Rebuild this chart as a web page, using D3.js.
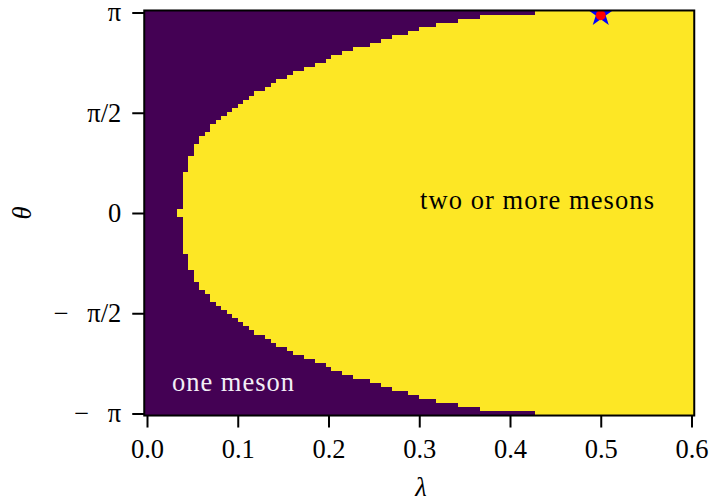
<!DOCTYPE html>
<html>
<head>
<meta charset="utf-8">
<script src="https://cdn.jsdelivr.net/npm/d3@7"></script>
<style>
  html, body { margin: 0; padding: 0; background: #ffffff; }
  svg { display: block; }
  text { font-family: "Liberation Serif", "DejaVu Serif", serif; }
</style>
</head>
<body>
<svg id="chart" width="710" height="497"></svg>
<script>
// ---- data ----
// sampling grid of the phase diagram
const lambdaMin = 0.0, lambdaMax = 0.6, nLambda = 100;
const thetaMin = -Math.PI, thetaMax = Math.PI, nTheta = 100;
// for each theta row (top row theta = +pi down to bottom row theta = -pi):
// index of the first lambda column that is in the "two or more mesons" phase
const onsetColumn = [
  71, 61, 57, 53, 50, 48, 45, 43, 41, 38,
  36, 34, 33, 31, 29, 27, 26, 24, 23, 22,
  20, 19, 18, 17, 16, 15, 14, 13, 12, 12,
  11, 10, 10,  9,  9,  9,  8,  8,  8,  8,
   7,  7,  7,  7,  7,  7,  7,  7,  7,  6,
   6,  7,  7,  7,  7,  7,  7,  7,  7,  7,
   8,  8,  8,  8,  9,  9,  9, 10, 10, 11,
  12, 12, 13, 14, 15, 16, 17, 18, 19, 20,
  22, 23, 24, 26, 27, 29, 31, 33, 34, 36,
  38, 41, 43, 45, 48, 50, 53, 57, 61, 71
];
const phaseNames = ["one meson", "two or more mesons"];
const phaseColors = ["#440154", "#fde725"];
const xTickValues = [0.0, 0.1, 0.2, 0.3, 0.4, 0.5, 0.6];
const yTickValues = [-Math.PI, -Math.PI / 2, 0, Math.PI / 2, Math.PI];
const yTickLabels = ["\u2212\u2002\u2009\u03c0", "\u2212\u2002\u2009\u03c0/2", "0", "\u03c0/2", "\u03c0"];
const markerPoint = [{ lambda: 0.5, theta: Math.PI }];

// ---- layout ----
const FS = 26.5;
const svg = d3.select("#chart");
const x = d3.scaleLinear().domain([lambdaMin, lambdaMax]).range([147, 691.5]);
const y = d3.scaleLinear().domain([thetaMin, thetaMax]).range([413.5, 12.5]);
const dLam = (lambdaMax - lambdaMin) / (nLambda - 1);
const dTh = (thetaMax - thetaMin) / (nTheta - 1);
const pLeft = x(lambdaMin - dLam / 2), pRight = x(lambdaMax + dLam / 2);
const pTop = y(thetaMax + dTh / 2), pBottom = y(thetaMin - dTh / 2);

// clip
svg.append("defs").append("clipPath").attr("id", "plotclip")
  .append("rect").attr("x", pLeft).attr("y", pTop)
  .attr("width", pRight - pLeft).attr("height", pBottom - pTop);

const plot = svg.append("g").attr("clip-path", "url(#plotclip)");

// build row runs from the data
const rows = onsetColumn.map((j, i) => {
  const theta = thetaMax - i * dTh;
  const lamOnset = lambdaMin + j * dLam;
  return [
    { phase: 0, theta, l0: lambdaMin - dLam / 2, l1: lamOnset - dLam / 2 },
    { phase: 1, theta, l0: lamOnset - dLam / 2, l1: lambdaMax + dLam / 2 }
  ];
}).flat();

plot.selectAll("rect.cell").data(rows).join("rect")
  .attr("class", "cell")
  .attr("x", d => x(d.l0))
  .attr("width", d => x(d.l1) - x(d.l0))
  .attr("y", d => y(d.theta + dTh / 2))
  .attr("height", d => y(d.theta - dTh / 2) - y(d.theta + dTh / 2) + 0.3)
  .attr("fill", d => phaseColors[d.phase])
  .attr("shape-rendering", "crispEdges");

// star marker
const starPath = d3.symbol().type(d3.symbolStar).size(210)();
plot.selectAll("path.star").data(markerPoint).join("path")
  .attr("class", "star")
  .attr("d", starPath)
  .attr("transform", d => `translate(${x(d.lambda)},${y(d.theta) + 1.5})`)
  .attr("fill", "#0000ff");
plot.selectAll("circle.dot").data(markerPoint).join("circle")
  .attr("class", "dot")
  .attr("cx", d => x(d.lambda)).attr("cy", d => y(d.theta) + 2.8)
  .attr("r", 5).attr("fill", "#ff0000");

// phase labels
svg.append("text").attr("x", 420).attr("y", 209)
  .attr("font-size", FS).attr("fill", "#000")
  .attr("textLength", 234).attr("lengthAdjust", "spacing")
  .text(phaseNames[1]);
svg.append("text").attr("x", 172).attr("y", 391)
  .attr("font-size", FS).attr("fill", "#f2eef6")
  .attr("textLength", 122).attr("lengthAdjust", "spacing")
  .text(phaseNames[0]);

// frame
svg.append("rect").attr("x", pLeft).attr("y", pTop)
  .attr("width", pRight - pLeft).attr("height", pBottom - pTop)
  .attr("fill", "none").attr("stroke", "#000").attr("stroke-width", 2);

// x axis
const xAxis = svg.append("g").attr("transform", `translate(0,${pBottom})`)
  .call(d3.axisBottom(x).tickValues(xTickValues).tickFormat(d3.format(".1f"))
    .tickSizeOuter(0).tickSizeInner(12).tickPadding(12));
xAxis.select(".domain").remove();
xAxis.selectAll(".tick line").attr("stroke", "#000").attr("stroke-width", 2);
xAxis.selectAll(".tick text").attr("font-size", FS).attr("fill", "#000")
  .attr("font-family", "Liberation Serif, serif");

// y axis
const yAxis = svg.append("g").attr("transform", `translate(${pLeft},0)`)
  .call(d3.axisLeft(y).tickValues(yTickValues)
    .tickFormat((d, i) => yTickLabels[i])
    .tickSizeOuter(0).tickSizeInner(12).tickPadding(11));
yAxis.select(".domain").remove();
yAxis.selectAll(".tick line").attr("stroke", "#000").attr("stroke-width", 2);
yAxis.selectAll(".tick text").attr("font-size", FS).attr("fill", "#000")
  .attr("font-family", "Liberation Serif, serif");

// axis titles
svg.append("text").attr("x", 421).attr("y", 496)
  .attr("text-anchor", "middle").attr("font-size", FS).attr("font-style", "italic")
  .text("\u03bb");
svg.append("text").attr("transform", "translate(31,213) rotate(-90)")
  .attr("text-anchor", "middle").attr("font-size", FS).attr("font-style", "italic")
  .text("\u03b8");
</script>
</body>
</html>
